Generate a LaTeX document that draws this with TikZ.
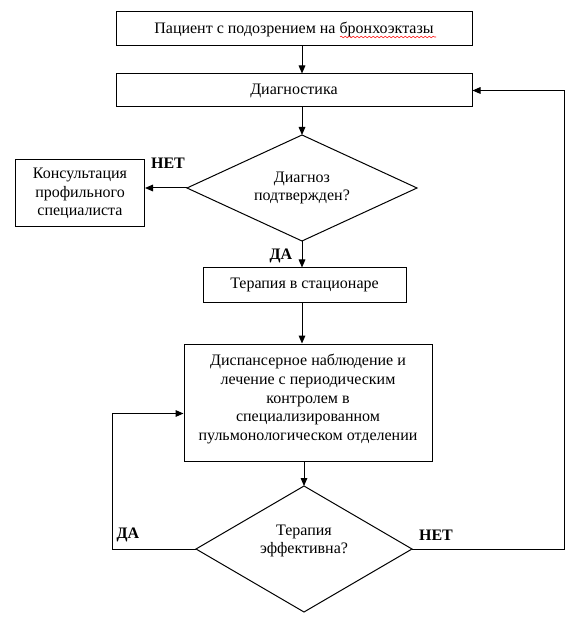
\documentclass[tikz,border=0pt]{standalone}
\usepackage{fontspec}
\setmainfont{Liberation Serif}
\usetikzlibrary{shapes.geometric,arrows.meta,decorations.pathmorphing}
\begin{document}
\begin{tikzpicture}[x=0.75pt,y=-0.75pt,
  line width=0.75pt,
  every node/.style={font=\fontsize{12}{14}\selectfont},
  blk/.style={draw,rectangle,inner sep=0pt,align=center},
  dia/.style={draw,diamond,inner sep=0pt,outer sep=0pt,align=center},
  lbl/.style={font=\fontsize{12}{14}\selectfont\bfseries},
  arr/.style={-{Triangle[length=6pt,width=5pt]}}]
\useasboundingbox (0,0) rectangle (581,630);
\node[blk,minimum width=267pt,minimum height=25.5pt] (b1) at (294,29) {Пациент с подозрением на бронхоэктазы};
\node[blk,minimum width=267pt,minimum height=24.75pt] (b2) at (294,90.5) {Диагностика};
\node[dia,shape aspect=2.17,minimum width=172.5pt,minimum height=79.5pt] (d1) at (302,188) {Диагноз\\подтвержден?};
\node[blk,minimum width=96.75pt,minimum height=50.25pt] (c) at (80,193.5) {Консультация\\профильного\\специалиста};
\node[blk,minimum width=152.25pt,minimum height=25.5pt] (b3) at (304.5,285) {Терапия в стационаре};
\node[blk,minimum width=186pt,minimum height=87.75pt] (b4) at (308,402.5) {};
\node[align=center] (b4t) at (308,399) {Диспансерное наблюдение и\\лечение с периодическим\\контролем в\\специализированном\\пульмонологическом отделении};
\node[dia,shape aspect=1.71,minimum width=162pt,minimum height=94.5pt] (d2) at (304,549) {};
\node[align=center] (d2t) at (304,541) {Терапия\\эффективна?};
\node[lbl] (n1) at (168,163) {НЕТ};
\node[lbl] (y1) at (281,256) {ДА};
\node[lbl] (y2) at (128,535) {ДА};
\node[lbl] (n2) at (436,535) {НЕТ};
\coordinate (lx) at (112,549);
\coordinate (rx) at (564,549);
\coordinate (u) at (340,37);
\draw[red,line width=0.4pt,decorate,decoration={snake,amplitude=0.6pt,segment length=3pt}] (u) -- ++(96,0);
\draw[arr] (b1.south -| d1.north) -- (b2.north -| d1.north);
\draw[arr] (b2.south -| d1.north) -- (d1.north);
\draw[arr] (d1.west) -- (c.east |- d1.west);
\draw[arr] (d1.south) -- (b3.north -| d1.south);
\draw[arr] (b3.south -| d1.south) -- (b4.north -| d1.south);
\draw[arr] (b4.south -| d2.north) -- (d2.north);
\draw[arr] (d2.west) -- (lx) |- ([yshift=-8.25pt]b4.west);
\draw[arr] (d2.east) -- (rx) |- (b2.east);
\end{tikzpicture}
\end{document}
